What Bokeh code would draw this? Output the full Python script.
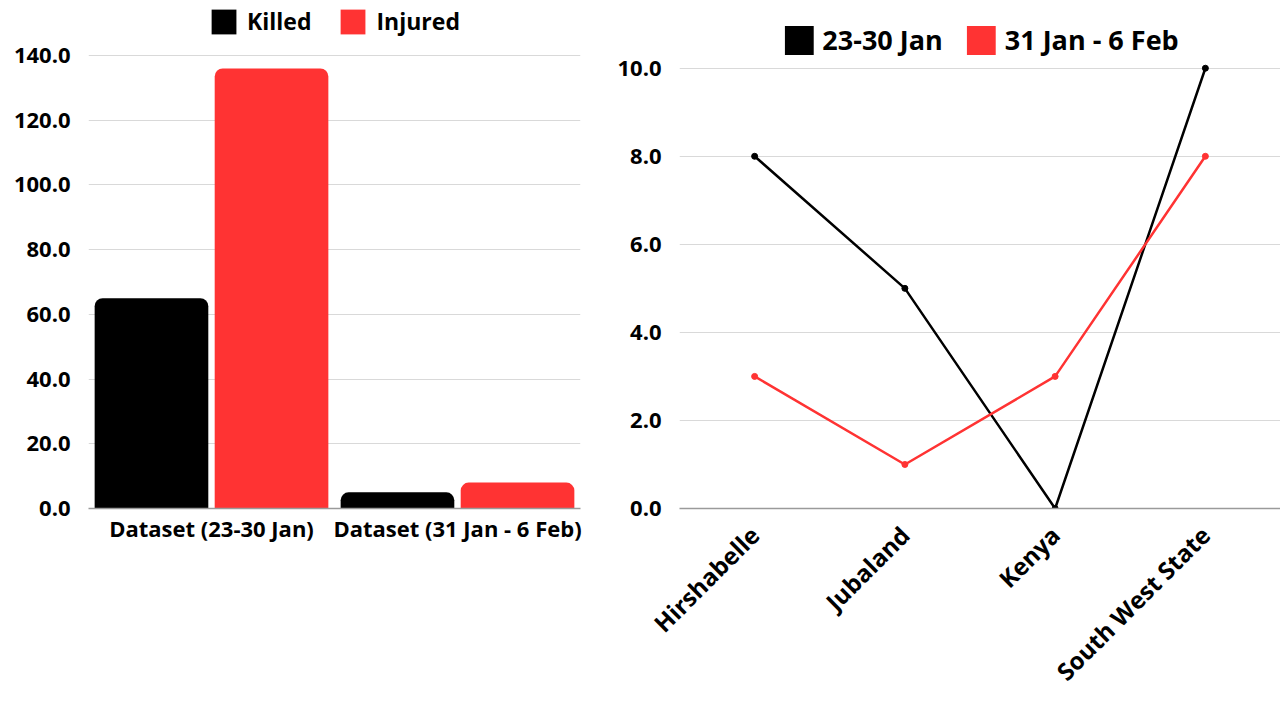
import math
from bokeh.plotting import figure
from bokeh.layouts import row
from bokeh.models import (FactorRange, NumeralTickFormatter, Legend, LegendItem,
                          ColumnDataSource, Range1d, FixedTicker)
from bokeh.transform import dodge
from bokeh.embed import file_html
from bokeh.resources import INLINE

# ---- data ----
datasets = ["Dataset (23-30 Jan)", "Dataset (31 Jan - 6 Feb)"]
killed = [65, 5]
injured = [136, 8]
bar_series = ["Killed", "Injured"]

regions = ["Hirshabelle", "Jubaland", "Kenya", "South West State"]
week_23_30_jan = [8, 5, 0, 10]
week_31jan_6feb = [3, 1, 3, 8]
line_series = ["23-30 Jan", "31 Jan - 6 Feb"]

left_ticks = [0, 20, 40, 60, 80, 100, 120, 140]
right_ticks = [0, 2, 4, 6, 8, 10]

FONT = "Open Sans"
BLACK = "#000000"
RED = "#ff3333"
GRID = "#d9d9d9"
AXIS = "#9a9a9a"
TICK_SIZE = "22px"

H = 701
# frame spans from the top of the canvas; axis max sits below the legend
L_BOTTOM, L_TOP_TICK = 508, 55
R_BOTTOM, R_TOP_TICK = 510, 68
left_end = left_ticks[-1] * L_BOTTOM / (L_BOTTOM - L_TOP_TICK)
right_end = right_ticks[-1] * R_BOTTOM / (R_BOTTOM - R_TOP_TICK)


def style(p):
    p.outline_line_color = None
    p.background_fill_color = "white"
    p.border_fill_color = "white"
    p.xgrid.grid_line_color = None
    p.ygrid.grid_line_color = GRID
    p.ygrid.grid_line_width = 1
    p.yaxis.axis_line_color = None
    p.yaxis.major_tick_line_color = None
    p.yaxis.minor_tick_line_color = None
    p.yaxis.formatter = NumeralTickFormatter(format="0.0")
    p.yaxis.major_label_standoff = 18
    p.xaxis.axis_line_color = AXIS
    p.xaxis.axis_line_width = 1.5
    p.xaxis.major_tick_line_color = None
    p.xaxis.minor_tick_line_color = None
    for ax in (p.xaxis, p.yaxis):
        ax.major_tick_out = 0
        ax.major_tick_in = 0
        ax.minor_tick_out = 0
        ax.minor_tick_in = 0
        ax.major_label_text_font = FONT
        ax.major_label_text_font_style = "bold"
        ax.major_label_text_font_size = TICK_SIZE
        ax.major_label_text_color = BLACK


# ---- left: grouped bars ----
src1 = ColumnDataSource(dict(x=datasets, killed=killed, injured=injured))
p1 = figure(width=590, height=H,
            x_range=FactorRange(*datasets, range_padding=0),
            y_range=Range1d(0, left_end),
            output_backend="svg", toolbar_location=None,
            min_border_left=88, min_border_right=10,
            min_border_top=0, min_border_bottom=H - L_BOTTOM)
style(p1)
p1.yaxis.ticker = FixedTicker(ticks=left_ticks)
p1.xaxis.major_label_standoff = 4

rk = p1.vbar(x=dodge("x", -0.244, range=p1.x_range), top="killed", source=src1,
             width=0.462, fill_color=BLACK, line_color=None, border_radius=(8, 8, 0, 0))
ri = p1.vbar(x=dodge("x", 0.244, range=p1.x_range), top="injured", source=src1,
             width=0.462, fill_color=RED, line_color=None, border_radius=(8, 8, 0, 0))

leg1 = Legend(items=[LegendItem(label=bar_series[0], renderers=[rk]),
                     LegendItem(label=bar_series[1], renderers=[ri])],
              orientation="horizontal", location="top_center",
              glyph_width=31, glyph_height=31, label_standoff=8, spacing=26,
              padding=0, margin=5, border_line_color=None,
              background_fill_alpha=0,
              label_text_font=FONT, label_text_font_style="bold",
              label_text_font_size="23px", label_text_color=BLACK)
p1.add_layout(leg1, "center")

# ---- right: lines ----
src2 = ColumnDataSource(dict(x=regions, a=week_23_30_jan, b=week_31jan_6feb))
p2 = figure(width=690, height=H,
            x_range=FactorRange(*regions, range_padding=0),
            y_range=Range1d(0, right_end),
            output_backend="svg", toolbar_location=None,
            min_border_left=89, min_border_right=0,
            min_border_top=0, min_border_bottom=H - R_BOTTOM)
style(p2)
p2.yaxis.ticker = FixedTicker(ticks=right_ticks)
p2.xaxis.major_label_orientation = math.pi / 4
p2.xaxis.major_label_standoff = 22
p2.xaxis.major_label_text_font_size = "24px"

p2.line("x", "a", source=src2, line_color=BLACK, line_width=2.5)
p2.scatter("x", "a", source=src2, size=6, fill_color=BLACK, line_color=BLACK)
p2.line("x", "b", source=src2, line_color=RED, line_width=2.5)
p2.scatter("x", "b", source=src2, size=6, fill_color=RED, line_color=RED)

# square swatches for the legend (hidden renderers)
sa = p2.vbar(x="x", top="a", source=src2, width=0.1, fill_color=BLACK, line_color=None, visible=False)
sb = p2.vbar(x="x", top="b", source=src2, width=0.1, fill_color=RED, line_color=None, visible=False)

leg2 = Legend(items=[LegendItem(label=line_series[0], renderers=[sa]),
                     LegendItem(label=line_series[1], renderers=[sb])],
              orientation="horizontal", location="top_center",
              glyph_width=36, glyph_height=36, label_standoff=6, spacing=20,
              padding=0, margin=21, border_line_color=None,
              background_fill_alpha=0,
              label_text_font=FONT, label_text_font_style="bold",
              label_text_font_size="27px", label_text_color=BLACK)
p2.add_layout(leg2, "center")

layout = row(p1, p2)
open("out.html", "w").write(file_html(layout, INLINE))
